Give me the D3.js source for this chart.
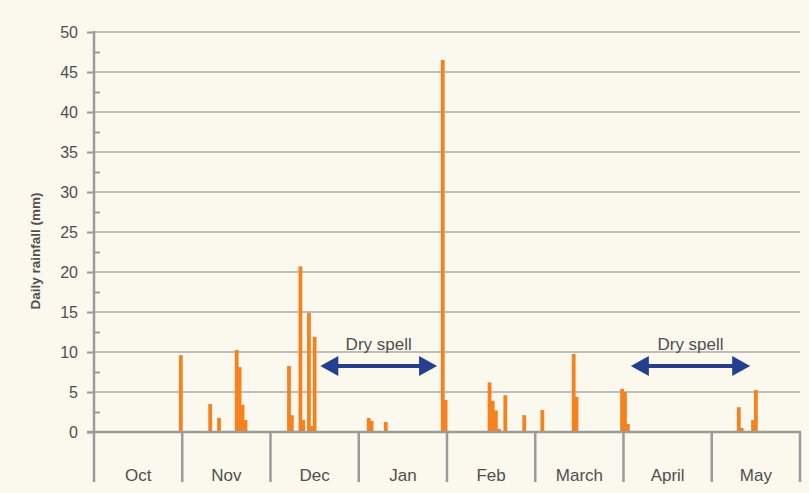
<!DOCTYPE html>
<html>
<head>
<meta charset="utf-8">
<script src="https://cdn.jsdelivr.net/npm/d3@7"></script>
<style>
  body { margin: 0; background: #fbf8ee; }
  text { font-family: "Liberation Sans", Arial, sans-serif; }
</style>
</head>
<body>
<script>
const months = ["Oct", "Nov", "Dec", "Jan", "Feb", "March", "April", "May"];
const monthDays = [31, 30, 31, 31, 28, 31, 30, 31];

// daily rainfall (mm), one entry per rainy day
const rainMonth = ["Oct", "Nov", "Nov", "Nov", "Nov", "Nov", "Nov",
    "Dec", "Dec", "Dec", "Dec", "Dec", "Dec", "Dec",
    "Jan", "Jan", "Jan", "Jan", "Jan",
    "Feb", "Feb", "Feb", "Feb", "Feb", "Feb",
    "March", "March", "March", "March",
    "April", "April",
    "May", "May", "May", "May"];
const rainDay = [31, 10, 13, 19, 20, 21, 22,
    7, 8, 11, 12, 14, 15, 16,
    4, 5, 10, 30, 31,
    14, 15, 16, 17, 19, 25,
    3, 14, 15, 31,
    1, 2,
    10, 11, 15, 16];
const rainMm = [9.6, 3.5, 1.75, 10.25, 8.1, 3.4, 1.5,
    8.25, 2.1, 20.7, 1.5, 14.9, 0.75, 11.9,
    1.75, 1.4, 1.25, 46.5, 4.0,
    6.2, 3.9, 2.7, 0.4, 4.6, 2.1,
    2.75, 9.75, 4.4, 5.4,
    5.0, 1.0,
    3.1, 0.5, 1.5, 5.25];

const yTicks = [0, 5, 10, 15, 20, 25, 30, 35, 40, 45, 50];

// dry spell arrows: [startMonth, startDay, endMonth, endDay]
const drySpells = [["Dec", 18, "Jan", 28], ["April", 3, "May", 14]];

const width = 809, height = 493;
const axisColor = "#9b9b9b", textColor = "#4f4f4f";

const svg = d3.select("body").append("svg")
    .attr("width", width)
    .attr("height", height)
    .style("background", "#fbf8ee");

const x = d3.scaleBand().domain(months).range([94, 800]).padding(0);
const y = d3.scaleLinear().domain([0, 50]).range([432, 32]);

// x position of the centre of a day inside its month band
const dayX = (m, d) => {
    const days = monthDays[months.indexOf(m)];
    return x(m) + (d - 0.5) * x.bandwidth() / days;
};

// grid lines
svg.append("g")
    .selectAll("line")
    .data(yTicks.filter(d => d > 0))
    .join("line")
    .attr("x1", 94).attr("x2", 800)
    .attr("y1", d => y(d)).attr("y2", d => y(d))
    .attr("stroke", "#aaaaaa")
    .attr("stroke-width", 1.5);

// bars
const barW = 3.8;
svg.append("g")
    .selectAll("rect")
    .data(rainMm.map((v, i) => ({ m: rainMonth[i], d: rainDay[i], v })))
    .join("rect")
    .attr("x", d => dayX(d.m, d.d) - barW / 2)
    .attr("width", barW)
    .attr("y", d => y(d.v))
    .attr("height", d => y(0) - y(d.v))
    .attr("fill", "#f5821f");

// y axis with major ticks on the left, minor ticks on the right
const yAxis = svg.append("g")
    .attr("transform", "translate(94,0)")
    .call(d3.axisLeft(y).tickValues(yTicks).tickSize(7).tickPadding(9));
yAxis.select(".domain").remove();
yAxis.selectAll(".tick line").attr("stroke", axisColor).attr("stroke-width", 2);
yAxis.selectAll(".tick text")
    .attr("fill", textColor)
    .style("font-size", "16px")
    .style("font-family", "Liberation Sans, Arial, sans-serif");

const minor = svg.append("g")
    .attr("transform", "translate(94,0)")
    .call(d3.axisRight(y).tickValues(d3.range(2.5, 50, 5)).tickSize(6).tickFormat(""));
minor.select(".domain").remove();
minor.selectAll(".tick line").attr("stroke", axisColor).attr("stroke-width", 2);

svg.append("line")
    .attr("x1", 94).attr("x2", 94)
    .attr("y1", 31).attr("y2", 482)
    .attr("stroke", axisColor).attr("stroke-width", 2.5);

// x axis line and month separators
svg.append("line")
    .attr("x1", 87).attr("x2", 801)
    .attr("y1", y(0)).attr("y2", y(0))
    .attr("stroke", axisColor).attr("stroke-width", 2.5);

svg.append("g")
    .selectAll("line")
    .data(months.slice(1).map(m => x(m)).concat([x.range()[1]]))
    .join("line")
    .attr("x1", d => d).attr("x2", d => d)
    .attr("y1", y(0)).attr("y2", 482)
    .attr("stroke", axisColor)
    .attr("stroke-width", 2.5);

const xAxis = svg.append("g")
    .attr("transform", "translate(0,481)")
    .call(d3.axisBottom(x).tickSize(0).tickPadding(0));
xAxis.select(".domain").remove();
xAxis.selectAll(".tick text")
    .attr("dy", "0")
    .attr("y", 0)
    .attr("fill", textColor)
    .style("font-size", "17px")
    .style("font-family", "Liberation Sans, Arial, sans-serif");

// y title
svg.append("text")
    .attr("transform", "translate(40,251) rotate(-90)")
    .attr("text-anchor", "middle")
    .attr("fill", textColor)
    .style("font-size", "13.5px")
    .style("font-weight", "bold")
    .text("Daily rainfall (mm)");

// dry spell arrows
const arrowY = 366, head = 18, half = 10;
const blue = "#253f8f";
drySpells.forEach(s => {
    const x1 = dayX(s[0], s[1]), x2 = dayX(s[2], s[3]);
    const g = svg.append("g");
    g.append("line")
        .attr("x1", x1 + head - 2).attr("x2", x2 - head + 2)
        .attr("y1", arrowY).attr("y2", arrowY)
        .attr("stroke", blue).attr("stroke-width", 4);
    g.append("path")
        .attr("d", `M${x1},${arrowY} L${x1 + head},${arrowY - half} L${x1 + head},${arrowY + half} Z`)
        .attr("fill", blue);
    g.append("path")
        .attr("d", `M${x2},${arrowY} L${x2 - head},${arrowY - half} L${x2 - head},${arrowY + half} Z`)
        .attr("fill", blue);
    g.append("text")
        .attr("x", (x1 + x2) / 2)
        .attr("y", arrowY - 16)
        .attr("text-anchor", "middle")
        .attr("fill", textColor)
        .style("font-size", "17px")
        .text("Dry spell");
});
</script>
</body>
</html>
